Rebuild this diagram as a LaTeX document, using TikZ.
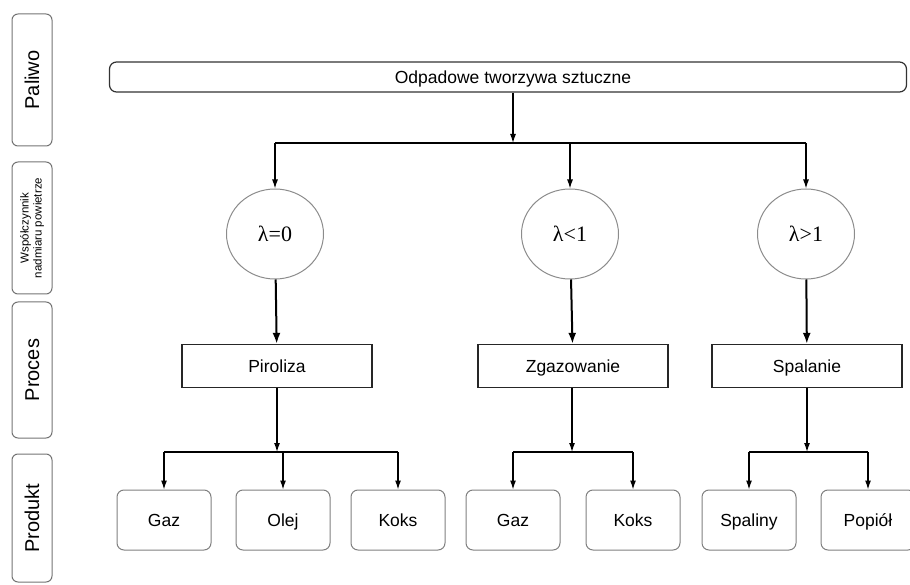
\documentclass[tikz,border=0pt]{standalone}
\usepackage{fontspec}
\setmainfont{Liberation Sans}
\newfontfamily\lamfont{Liberation Serif}
\usepackage{tikz}
\usetikzlibrary{arrows.meta}
\usetikzlibrary{positioning}
\usetikzlibrary{shapes.geometric}

\begin{document}
\begin{tikzpicture}
        [x=1pt,y=-1pt,
          >={Latex[length=9pt,width=6pt]},
          every node/.style={font=\fontsize{17.5}{19}\selectfont,inner sep=0pt,text height=12.5pt,text depth=0pt},
          side/.style={draw=black!55,line width=1pt,rounded corners=6pt,rotate=90,minimum height=40pt,font=\fontsize{20}{22}\selectfont,text height=14.3pt},
          fuel/.style={draw=black!80,line width=1.2pt,rounded corners=7pt,minimum width=797pt,minimum height=30pt},
          lam/.style={ellipse,draw=black!45,line width=1pt,minimum width=97pt,minimum height=90pt,font=\lamfont\fontsize{22}{24}\selectfont,text height=14.6pt},
          proc/.style={draw=black!85,line width=1.3pt,minimum width=190pt,minimum height=43pt},
          prod/.style={draw=black!50,line width=1pt,rounded corners=7pt,minimum width=94pt,minimum height=60pt},
          link/.style={line width=1.2pt},
          thick link/.style={line width=2pt,>={Latex[length=11pt,width=8pt]}}]
        \useasboundingbox (0,0) rectangle (910,585);
        % rubryki po lewej
        \node[side,minimum width=132pt] (sPal) at (32,80) {Paliwo};
        \node[side,minimum width=132pt,font=\fontsize{11.5}{13}\selectfont,align=center,text height=,text depth=] (sWsp) at (32,228) {Współczynnik\\nadmiaru powietrze};
        \node[side,minimum width=136pt] (sPro) at (32,370) {Proces};
        \node[side,minimum width=128pt] (sPrd) at (32,518) {Produkt};
        % paliwo
        \node[fuel] (n0) at (508,77) {\hspace*{10pt}Odpadowe tworzywa sztuczne};
        \coordinate (j0) at (513,143);
        % wspolczynnik lambda
        \node[lam] (l0) at (275,234) {λ=0};
        \node[lam] (l1) at (570,234) {λ<1};
        \node[lam] (l2) at (806,234) {λ>1};
        % procesy
        \node[proc] (p0) at (277,366) {Piroliza};
        \node[proc] (p1) at (573,366) {Zgazowanie};
        \node[proc] (p2) at (807,366) {Spalanie};
        % produkty
        \node[prod] (g0) at (164,520) {Gaz};
        \node[prod] (o0) at (283,520) {Olej};
        \node[prod] (k0) at (398,520) {Koks};
        \node[prod] (g1) at (513,520) {Gaz};
        \node[prod] (k1) at (633,520) {Koks};
        \node[prod] (s2) at (749,520) {Spaliny};
        \node[prod] (a2) at (868,520) {Popiół};
        \coordinate (h0) at (277,452);
        \coordinate (h1) at (572,452);
        \coordinate (h2) at (807,452);
        % polaczenia
        \draw[link,->] (n0.south -| j0) -- (j0);
        \draw[link] (j0 -| l0) -- (j0 -| l2);
        \foreach \to in {l0,l1,l2}
        \draw[link,->] (j0 -| \to) -- (\to);
        \foreach \from/\to in {l0/p0,l1/p1,l2/p2}
        \draw[thick link,->] (\from) -- (\to);
        \foreach \from/\to in {p0/h0,p1/h1,p2/h2}
        \draw[link,->] (\from.south -| \to) -- (\to);
        \foreach \from/\to in {h0/g0,h0/k0,h1/g1,h1/k1,h2/s2,h2/a2}
        \draw[link] (\from) -- (\from -| \to);
        \foreach \from/\to in {h0/g0,h0/o0,h0/k0,h1/g1,h1/k1,h2/s2,h2/a2}
        \draw[link,->] (\from -| \to) -- (\to);
      \end{tikzpicture}
\end{document}
